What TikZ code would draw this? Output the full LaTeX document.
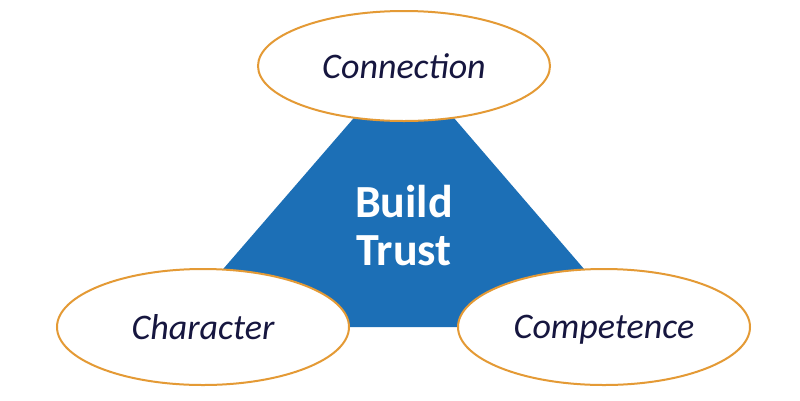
\documentclass[tikz,border=0pt]{standalone}
\usepackage{fontspec}
\setmainfont{Carlito}
\usetikzlibrary{shapes.geometric}
\definecolor{tblue}{HTML}{1C6FB6}
\definecolor{torange}{HTML}{E49A35}
\definecolor{tnavy}{HTML}{16163F}
\tikzset{
  oval/.style={ellipse, draw=torange, line width=2pt, fill=white, inner sep=0pt,
    minimum width=292pt, font=\fontsize{36}{40}\selectfont\itshape, text=tnavy,
    text depth=0pt},
}
\begin{document}
\begin{tikzpicture}[x=1pt,y=-1pt]
\useasboundingbox (0,0) rectangle (800,400);
\fill[white] (0,0) rectangle (800,400);
\coordinate (apex) at (404,60);
\coordinate (bl) at (173,327);
\coordinate (br) at (634,327);
\fill[tblue] (apex) -- (bl) -- (br) -- cycle;
\node[font=\fontsize{46}{48}\selectfont\bfseries, text=white, align=center] (trust) at (404,226) {Build\\Trust};
\node[oval, minimum height=110pt] (conn) at (404,66) {Connection};
\node[oval, minimum height=116pt] (char) at (203,327) {Character};
\node[oval, minimum height=116pt] (comp) at (604,327) {Competence};
\end{tikzpicture}
\end{document}
